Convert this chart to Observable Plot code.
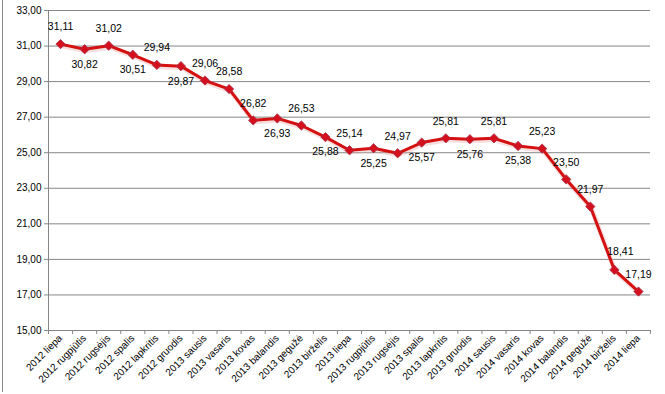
<!DOCTYPE html>
<html>
<head>
<meta charset="utf-8">
<script src="https://cdn.jsdelivr.net/npm/d3@7"></script>
<script src="https://cdn.jsdelivr.net/npm/@observablehq/plot@0.6"></script>
<style>
  html, body { margin: 0; padding: 0; background: #fff; }
  #wrap { position: relative; width: 665px; height: 394px; }
  #frame { position: absolute; left: 2px; top: 0; height: 392px; border-left: 1px solid #8a8a8a; }
</style>
</head>
<body>
<div id="wrap"><div id="frame"></div></div>
<script>
const months = [
  "2012 liepa", "2012 rugpjūtis", "2012 rugsėjis", "2012 spalis", "2012 lapkritis", "2012 gruodis",
  "2013 sausis", "2013 vasaris", "2013 kovas", "2013 balandis", "2013 gegužė", "2013 birželis",
  "2013 liepa", "2013 rugpjūtis", "2013 rugsėjis", "2013 spalis", "2013 lapkritis", "2013 gruodis",
  "2014 sausis", "2014 vasaris", "2014 kovas", "2014 balandis", "2014 gegužė", "2014 birželis", "2014 liepa"
];
const values = [
  31.11, 30.82, 31.02, 30.51, 29.94, 29.87,
  29.06, 28.58, 26.82, 26.93, 26.53, 25.88,
  25.14, 25.25, 24.97, 25.57, 25.81, 25.76,
  25.81, 25.38, 25.23, 23.50, 21.97, 18.41, 17.19
];
const yTicks = [15, 17, 19, 21, 23, 25, 27, 29, 31, 33];

const data = values.map((v, i) => ({i, v, month: months[i]}));
const belowIdx = new Set([1, 3, 5, 9, 11, 13, 15, 17, 19]);
const shiftIdx = new Set([23]);
const above = data.filter(d => !belowIdx.has(d.i) && !shiftIdx.has(d.i));
const aboveShift = data.filter(d => shiftIdx.has(d.i));
const below = data.filter(d => belowIdx.has(d.i));
const fmt = d => d.toFixed(2).replace(".", ",");
const boundaries = d3.range(-0.5, months.length, 1);

const chart = Plot.plot({
  width: 665,
  height: 394,
  marginLeft: 48,
  marginRight: 15,
  marginTop: 10,
  marginBottom: 64,
  style: {fontFamily: "Liberation Sans, Arial, sans-serif", fontSize: "10px", color: "#000", background: "#fff"},
  x: {type: "linear", domain: [-0.5, months.length - 0.5]},
  y: {domain: [15, 33]},
  marks: [
    Plot.gridY(yTicks, {stroke: "#868686", strokeOpacity: 1, strokeWidth: 1}),
    Plot.ruleX([-0.5], {stroke: "#868686", strokeWidth: 1}),
    Plot.axisY(yTicks, {tickFormat: fmt, tickSize: 4, tickPadding: 3, stroke: "#868686", label: null, fontSize: 10}),
    Plot.axisX(boundaries, {tickFormat: () => "", tickSize: 4, stroke: "#868686", label: null}),
    Plot.axisX(d3.range(months.length), {tickFormat: i => months[i], tickSize: 0, tickPadding: 6, tickRotate: -45, label: null, fontSize: 10}),
    Plot.line(data, {x: "i", y: "v", stroke: "#e8a0a0", strokeWidth: 5, strokeOpacity: 0.35, dx: 1, dy: 1.5}),
    Plot.line(data, {x: "i", y: "v", stroke: "#d41010", strokeWidth: 3}),
    Plot.dot(data, {x: "i", y: "v", symbol: "diamond2", r: 4.2, fill: "#d4101e", stroke: "#a8304a", strokeWidth: 0.8}),
    Plot.text(above, {x: "i", y: "v", text: d => fmt(d.v), dy: -17, fontSize: 10.5, fill: "#000"}),
    Plot.text(aboveShift, {x: "i", y: "v", text: d => fmt(d.v), dy: -18, dx: 6, fontSize: 10.5, fill: "#000"}),
    Plot.text(below, {x: "i", y: "v", text: d => fmt(d.v), dy: 15, fontSize: 10.5, fill: "#000"})
  ]
});
document.getElementById("wrap").appendChild(chart);
</script>
</body>
</html>
